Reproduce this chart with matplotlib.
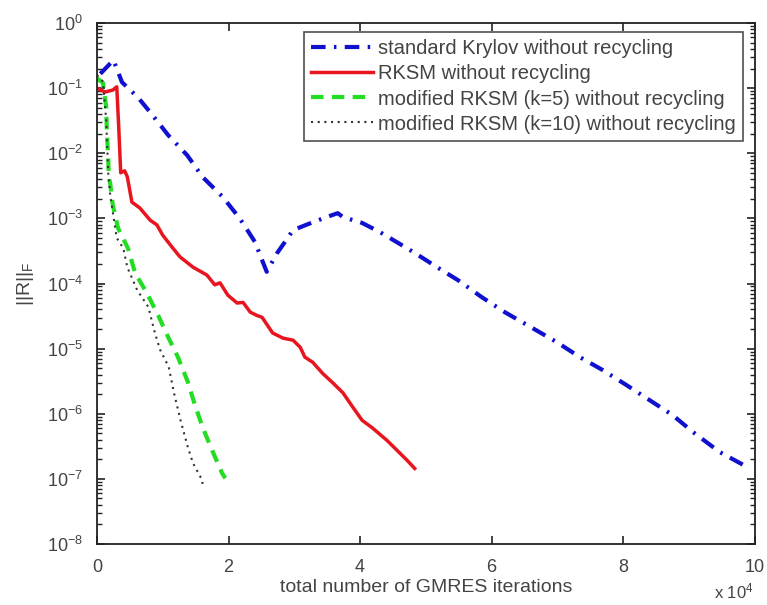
#!/usr/bin/env python
"""
Residual norm vs. total GMRES iterations (no recycling)
"""

import numpy as np
import matplotlib
matplotlib.use("Agg")
import matplotlib.pyplot as plt
from matplotlib.ticker import FixedLocator, NullFormatter

plt.rcParams['font.family'] = ['Liberation Sans', 'DejaVu Sans']
plt.rcParams['mathtext.fontset'] = 'custom'
plt.rcParams['mathtext.rm'] = 'Liberation Sans'
plt.rcParams['mathtext.it'] = 'Liberation Sans'

# x values are in units of 10^4 iterations, y values are log10(||R||_F)
krylov_x = [0.05, 0.25, 0.38, 0.62, 0.84, 1.08, 1.37, 1.61, 1.91, 2.17, 2.40,
            2.58, 2.74, 2.90, 2.98, 3.28, 3.49, 3.66, 3.74, 4.03, 4.30, 4.50,
            4.83, 5.17, 5.49, 5.85, 6.20, 6.63, 6.99, 7.34, 7.69, 8.05, 8.40,
            8.75, 9.06, 9.47, 9.89]
krylov_log = [-0.78, -0.57, -0.91, -1.14, -1.41, -1.72, -2.03, -2.37, -2.67, -3.00, -3.36,
              -3.82, -3.53, -3.30, -3.18, -3.06, -2.98, -2.92, -2.98, -3.07, -3.21, -3.33,
              -3.53, -3.75, -3.95, -4.21, -4.44, -4.69, -4.90, -5.13, -5.33, -5.56, -5.79,
              -6.02, -6.28, -6.59, -6.82]

rksm_x = [0.00, 0.12, 0.24, 0.30, 0.33, 0.36, 0.42, 0.46, 0.53, 0.65, 0.81, 0.91,
          1.00, 1.14, 1.26, 1.46, 1.67, 1.79, 1.87, 1.99, 2.13, 2.22, 2.33, 2.43,
          2.51, 2.67, 2.83, 2.98, 3.09, 3.16, 3.28, 3.43, 3.59, 3.74, 3.89, 4.03,
          4.19, 4.41, 4.56, 4.71, 4.83]
rksm_log = [-1.00, -1.06, -1.03, -0.98, -1.60, -2.30, -2.27, -2.36, -2.75, -2.84, -3.03, -3.10,
            -3.26, -3.44, -3.59, -3.75, -3.87, -4.02, -3.99, -4.18, -4.30, -4.29, -4.44, -4.49,
            -4.52, -4.76, -4.84, -4.87, -4.98, -5.13, -5.21, -5.38, -5.53, -5.68, -5.90, -6.10,
            -6.22, -6.41, -6.56, -6.71, -6.84]

mod5_x = [0.00, 0.09, 0.14, 0.15, 0.17, 0.18, 0.20, 0.24, 0.32, 0.47, 0.58, 0.76,
          0.93, 1.08, 1.23, 1.38, 1.49, 1.61, 1.75, 1.90, 1.95]
mod5_log = [-0.85, -0.92, -1.29, -1.69, -2.06, -2.38, -2.46, -2.80, -3.15, -3.46, -3.84, -4.15,
            -4.49, -4.82, -5.13, -5.51, -5.87, -6.22, -6.56, -6.91, -6.99]

mod10_x = [0.00, 0.09, 0.14, 0.17, 0.20, 0.30, 0.40, 0.46, 0.61, 0.78, 0.88, 0.96,
           1.09, 1.17, 1.27, 1.38, 1.46, 1.60, 1.61]
mod10_log = [-0.80, -0.90, -1.50, -2.30, -2.64, -3.30, -3.46, -3.75, -4.10, -4.36, -4.76, -5.02,
             -5.28, -5.68, -6.10, -6.51, -6.76, -7.02, -7.14]

labels = ["standard Krylov without recycling",
          "RKSM without recycling",
          "modified RKSM (k=5) without recycling",
          "modified RKSM (k=10) without recycling"]

x_ticks = [0, 2, 4, 6, 8, 10]
y_decades = [0, -1, -2, -3, -4, -5, -6, -7, -8]


def main():
    fig = plt.figure(figsize=(7.67, 6.05), dpi=100)
    ax = fig.add_axes([0.1265, 0.1008, 0.8575, 0.8612])

    ax.semilogy(krylov_x, 10 ** np.array(krylov_log), color='#1010d0', lw=3.0,
                dashes=(3.5, 2.0, 0.6, 2.0), label=labels[0])
    ax.semilogy(rksm_x, 10 ** np.array(rksm_log), color='#e8141e', lw=2.5,
                ls='-', label=labels[1])
    ax.semilogy(mod5_x, 10 ** np.array(mod5_log), color='#22dd22', lw=3.0,
                dashes=(3.0, 2.0), label=labels[2])
    ax.semilogy(mod10_x, 10 ** np.array(mod10_log), color='#333333', lw=1.5,
                dashes=(1.0, 2.2), label=labels[3])

    ax.set_xlim(0, 10)
    ax.set_ylim(1e-8, 1e0)
    ax.xaxis.set_major_locator(FixedLocator(x_ticks))
    ax.set_xticklabels([str(t) for t in x_ticks])

    # only decades inside the visible range, minor ticks 2..9 in between
    y_major = [10.0 ** d for d in y_decades]
    y_minor = [m * 10.0 ** d for d in y_decades[1:] for m in range(2, 10)]
    ax.yaxis.set_major_locator(FixedLocator(y_major))
    ax.yaxis.set_minor_locator(FixedLocator(y_minor))
    ax.set_yticklabels([r"10$^{%d}$" % d for d in y_decades])
    ax.yaxis.set_minor_formatter(NullFormatter())

    ax.tick_params(which='both', direction='in', top=True, right=True,
                   labelsize=13, colors='#222222', labelcolor='#444444')
    ax.tick_params(which='major', length=6, width=1.2)
    ax.tick_params(which='minor', length=3.5, width=1.0)
    ax.tick_params(axis='x', which='minor', bottom=False, top=False)
    ax.tick_params(axis='x', pad=11)
    ax.tick_params(axis='y', pad=10)
    for sp in ax.spines.values():
        sp.set_linewidth(1.3)
        sp.set_color('#222222')

    ax.set_xlabel("total number of GMRES iterations", fontsize=14, color='#444444', labelpad=2)
    ax.set_ylabel(r"||R||$_F$", fontsize=14, color='#444444', labelpad=8)
    ax.text(0.998, -0.072, r"x 10$^4$", transform=ax.transAxes, ha='right', va='top',
            fontsize=12, color='#444444')

    leg = ax.legend(loc='upper right', bbox_to_anchor=(0.982, 0.982), fontsize=14.5,
                    frameon=True, fancybox=False, edgecolor='#222222',
                    handlelength=3.1, handletextpad=0.25, borderpad=0.35,
                    labelspacing=0.3, borderaxespad=0.0)
    leg.get_frame().set_linewidth(1.2)
    for t in leg.get_texts():
        t.set_color('#444444')

    fig.savefig("out.png", dpi=100)


if __name__ == "__main__":
    main()
